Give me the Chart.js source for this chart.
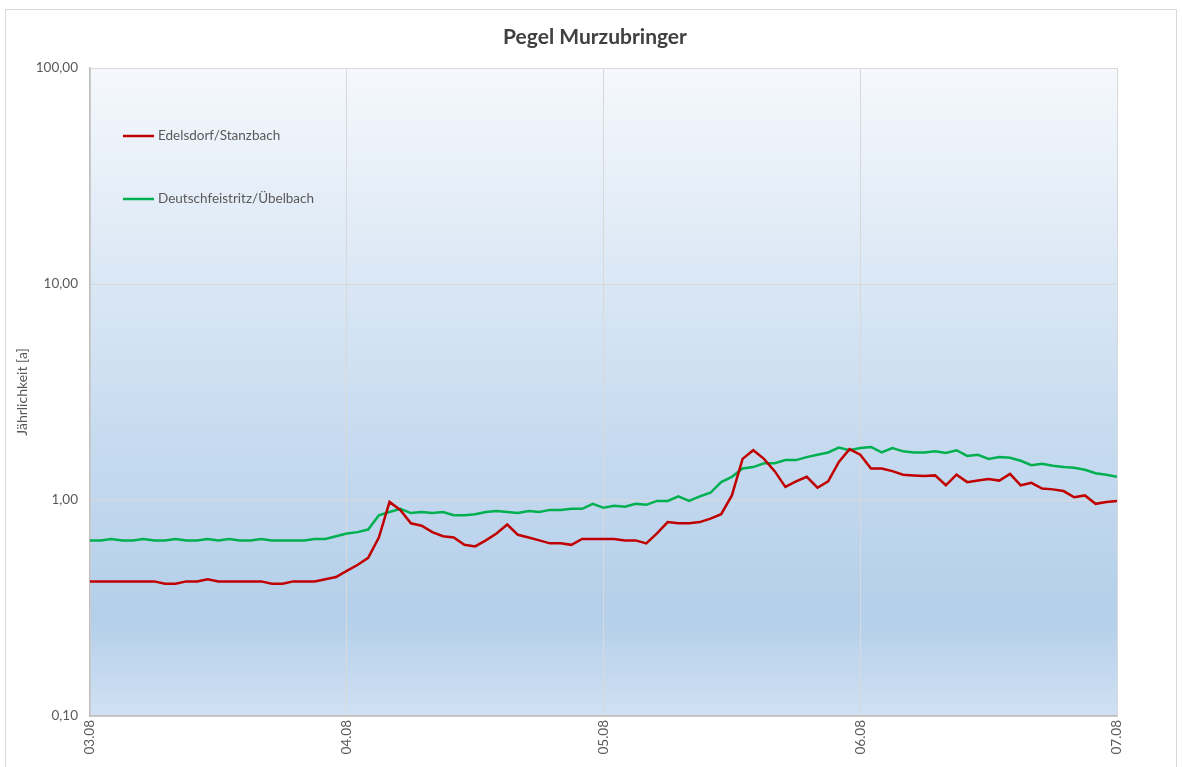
<!DOCTYPE html>
<html>
<head>
<meta charset="utf-8">
<title>Pegel Murzubringer</title>
<script src="https://cdn.jsdelivr.net/npm/chart.js@4/dist/chart.umd.min.js"></script>
<style>
  html, body { margin: 0; padding: 0; background: #fff; }
  #wrap { width: 1182px; height: 767px; }
</style>
</head>
<body>
<div id="wrap"><canvas id="pegelChart" width="1182" height="767"></canvas></div>
<script>
// Stunden ab 03.08 00:00
const stunden = Array.from({ length: 97 }, (_, i) => i);

const xTickWerte = [0, 24, 48, 72, 96];
const xTickLabels = ['03.08', '04.08', '05.08', '06.08', '07.08'];

const yTickWerte = [0.1, 1, 10, 100];
const yTickLabels = ['0,10', '1,00', '10,00', '100,00'];

const edelsdorf = [
    0.42, 0.42, 0.42, 0.42, 0.42, 0.42, 0.42, 0.41, 0.41, 0.42,
    0.42, 0.43, 0.42, 0.42, 0.42, 0.42, 0.42, 0.41, 0.41, 0.42,
    0.42, 0.42, 0.43, 0.44, 0.47, 0.50, 0.54, 0.67, 0.98, 0.90,
    0.78, 0.76, 0.71, 0.68, 0.67, 0.62, 0.61, 0.65, 0.70, 0.77,
    0.69, 0.67, 0.65, 0.63, 0.63, 0.62, 0.66, 0.66, 0.66, 0.66,
    0.65, 0.65, 0.63, 0.70, 0.79, 0.78, 0.78, 0.79, 0.82, 0.86,
    1.05, 1.55, 1.70, 1.55, 1.36, 1.15, 1.22, 1.28, 1.14, 1.22,
    1.50, 1.72, 1.62, 1.40, 1.40, 1.36, 1.31, 1.30, 1.29, 1.30,
    1.17, 1.31, 1.21, 1.23, 1.25, 1.23, 1.32, 1.17, 1.20, 1.13,
    1.12, 1.10, 1.03, 1.05, 0.96, 0.98, 0.99
];

const deutschfeistritz = [
    0.65, 0.65, 0.66, 0.65, 0.65, 0.66, 0.65, 0.65, 0.66, 0.65,
    0.65, 0.66, 0.65, 0.66, 0.65, 0.65, 0.66, 0.65, 0.65, 0.65,
    0.65, 0.66, 0.66, 0.68, 0.70, 0.71, 0.73, 0.85, 0.88, 0.91,
    0.87, 0.88, 0.87, 0.88, 0.85, 0.85, 0.86, 0.88, 0.89, 0.88,
    0.87, 0.89, 0.88, 0.90, 0.90, 0.91, 0.91, 0.96, 0.92, 0.94,
    0.93, 0.96, 0.95, 0.99, 0.99, 1.04, 0.99, 1.04, 1.08, 1.21,
    1.28, 1.40, 1.42, 1.48, 1.48, 1.53, 1.53, 1.58, 1.62, 1.66,
    1.75, 1.70, 1.74, 1.76, 1.66, 1.74, 1.68, 1.66, 1.66, 1.68,
    1.65, 1.70, 1.60, 1.62, 1.55, 1.58, 1.57, 1.52, 1.45, 1.47,
    1.44, 1.42, 1.41, 1.38, 1.33, 1.31, 1.28
];

const schrift = 'Lato, "Open Sans", sans-serif';
const textFarbe = '#595959';

function punkte(werte) {
    return werte.map((v, i) => ({ x: stunden[i], y: v }));
}

// Rahmen, Verlauf im Diagrammbereich, Titel und Legende
const excelLook = {
    id: 'excelLook',
    beforeDraw(chart) {
        const ctx = chart.ctx;
        const a = chart.chartArea;
        ctx.save();
        ctx.strokeStyle = '#d9d9d9';
        ctx.lineWidth = 1;
        ctx.strokeRect(5.5, 9.5, 1171, 800);
        const grad = ctx.createLinearGradient(0, a.top, 0, a.bottom);
        grad.addColorStop(0, '#f5f8fc');
        grad.addColorStop(0.55, '#c8dcf0');
        grad.addColorStop(0.85, '#b4cfea');
        grad.addColorStop(1, '#d0e1f3');
        ctx.fillStyle = grad;
        ctx.fillRect(a.left, a.top, a.right - a.left, a.bottom - a.top);
        ctx.restore();
    },
    afterDraw(chart) {
        const ctx = chart.ctx;
        ctx.save();
        ctx.fillStyle = '#404040';
        ctx.font = 'bold 21px ' + schrift;
        ctx.textAlign = 'center';
        ctx.textBaseline = 'middle';
        ctx.fillText('Pegel Murzubringer', 595, 37);

        ctx.font = '13.5px ' + schrift;
        ctx.textAlign = 'left';
        chart.data.datasets.forEach((ds, i) => {
            const y = 136 + i * 63;
            ctx.strokeStyle = ds.borderColor;
            ctx.lineWidth = 2.5;
            ctx.beginPath();
            ctx.moveTo(123, y);
            ctx.lineTo(154, y);
            ctx.stroke();
            ctx.fillStyle = textFarbe;
            ctx.fillText(ds.label, 158, y);
        });
        ctx.restore();
    }
};

document.addEventListener('DOMContentLoaded', function() {
    const ctx = document.getElementById('pegelChart').getContext('2d');
    new Chart(ctx, {
        type: 'line',
        data: {
            datasets: [{
                label: 'Edelsdorf/Stanzbach',
                data: punkte(edelsdorf),
                borderColor: '#c00000',
                borderWidth: 2.5,
                pointRadius: 0,
                tension: 0
            }, {
                label: 'Deutschfeistritz/Übelbach',
                data: punkte(deutschfeistritz),
                borderColor: '#00b050',
                borderWidth: 2.5,
                pointRadius: 0,
                tension: 0
            }]
        },
        options: {
            responsive: false,
            animation: false,
            layout: { padding: { top: 68, right: 65, bottom: 0, left: 0 } },
            plugins: {
                legend: { display: false },
                title: { display: false },
                tooltip: { enabled: false }
            },
            scales: {
                x: {
                    type: 'linear',
                    min: 0,
                    max: 96,
                    afterBuildTicks(scale) {
                        scale.ticks = xTickWerte.map(v => ({ value: v }));
                    },
                    afterFit(scale) { scale.height = 51; },
                    ticks: {
                        minRotation: 90,
                        maxRotation: 90,
                        padding: 4,
                        color: textFarbe,
                        font: { family: schrift, size: 13.5 },
                        callback: (v) => xTickLabels[xTickWerte.indexOf(v)]
                    },
                    grid: { color: '#d9d9d9', lineWidth: 1, drawTicks: false },
                    border: { color: '#bfbfbf', width: 1.5 }
                },
                y: {
                    type: 'logarithmic',
                    min: 0.1,
                    max: 100,
                    afterBuildTicks(scale) {
                        scale.ticks = yTickWerte.map(v => ({ value: v, major: true }));
                    },
                    afterFit(scale) { scale.width = 90; },
                    ticks: {
                        padding: 12,
                        color: textFarbe,
                        font: { family: schrift, size: 13.5 },
                        callback: (v) => yTickLabels[yTickWerte.indexOf(v)]
                    },
                    grid: { color: '#d9d9d9', lineWidth: 1, drawTicks: false },
                    border: { color: '#bfbfbf', width: 1.5 },
                    title: {
                        display: true,
                        text: 'Jährlichkeit [a]',
                        color: textFarbe,
                        font: { family: schrift, size: 14 },
                        padding: { top: 14, bottom: 0 }
                    }
                }
            }
        },
        plugins: [excelLook]
    });
});
</script>
</body>
</html>
